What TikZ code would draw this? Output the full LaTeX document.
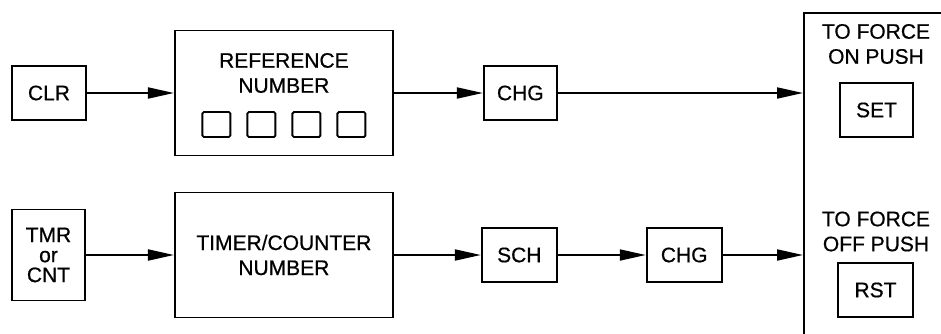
\documentclass[tikz,border=0pt]{standalone}
\usepackage{fontspec}
\setmainfont{Liberation Sans}[BoldFont=Liberation Sans, BoldFeatures={FakeBold=0.6}]
\usetikzlibrary{arrows.meta,positioning}
\tikzset{
  blkbox/.style={draw, line width=1.9pt, align=center, inner sep=2pt},
  blkkey/.style={blkbox, minimum width=73pt, minimum height=54pt},
  blkbig/.style={blkbox, minimum width=218pt, minimum height=125pt},
  blkdigit/.style={draw, line width=1.9pt, minimum width=28pt, minimum height=25pt, inner sep=0pt, rounded corners=1.5pt},
  blktxt/.style={align=center, inner sep=0pt},
  blkarr/.style={-{Triangle[length=26pt,width=11pt]}, line width=1.9pt}
}
\begin{document}
\begin{tikzpicture}[x=1pt, y=1pt, font=\fontsize{21}{25}\selectfont\bfseries]
  \useasboundingbox (0,0) rectangle (941,333);
  \clip (0,0) rectangle (941,333);
  % upper row
  \node[blkkey, minimum width=74pt] (clr) at (49,240) {CLR};
  \node[blkbig, right=87pt of clr] (refnum) {};
  \node[blktxt] (reftxt) at ([yshift=20pt]refnum.center) {REFERENCE\\NUMBER};
  \foreach \i in {0,...,3}
    \node[blkdigit] (dig\i) at ([shift={(-67.5+45*\i,-31.5)}]refnum.center) {};
  \node[blkkey, right=89pt of refnum] (chgon) {CHG};
  % lower row
  \node[blkkey, minimum height=91pt, font=\fontsize{21}{20}\selectfont\bfseries] (tmr) at (48.5,78) {TMR\\or\\CNT};
  \node[blkbig, right=88pt of tmr] (timer) {TIMER/COUNTER\\NUMBER};
  \node[blkkey, minimum width=75pt, right=87pt of timer] (sch) {SCH};
  \node[blkkey, minimum width=75pt, right=88pt of sch] (chgoff) {CHG};
  % force panel, runs off the page
  \node[draw, line width=1.9pt, minimum width=200pt, minimum height=380pt, anchor=north west] (panel) at (803,321) {};
  \node[blktxt] (ontxt) at (876,289) {TO FORCE\\ON PUSH};
  \node[blkkey] (set) at (876.5,223) {SET};
  \node[blktxt] (offtxt) at (876,101.5) {TO FORCE\\OFF PUSH};
  \node[blkkey, minimum width=75pt] (rst) at (875.5,43) {RST};
  \draw[blkarr] (clr) -- (refnum);
  \draw[blkarr] (refnum) -- (chgon);
  \draw[blkarr] (chgon) -- (chgon -| panel.west);
  \draw[blkarr] (tmr) -- (timer);
  \draw[blkarr] (timer) -- (sch);
  \draw[blkarr] (sch) -- (chgoff);
  \draw[blkarr] (chgoff) -- (chgoff -| panel.west);
\end{tikzpicture}
\end{document}
